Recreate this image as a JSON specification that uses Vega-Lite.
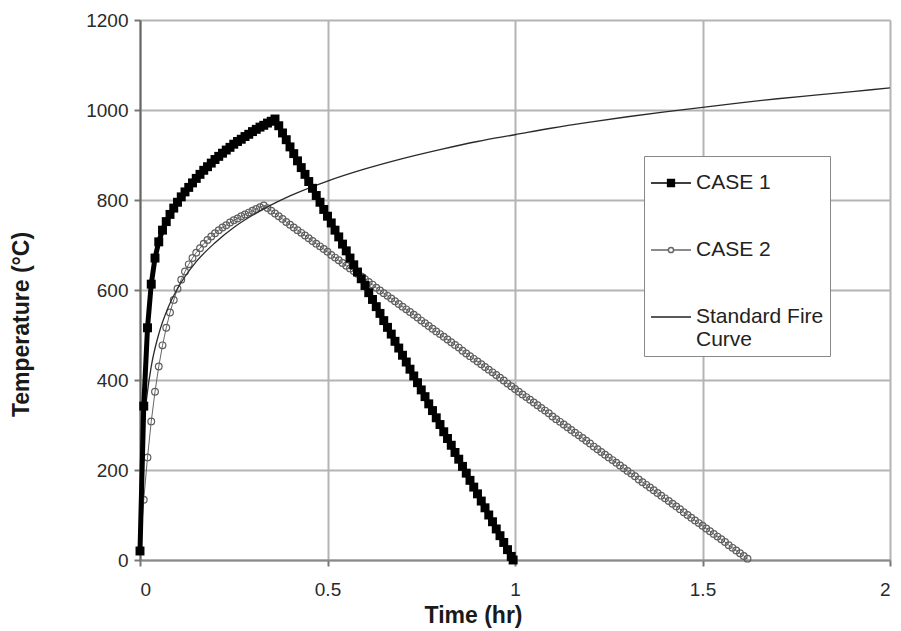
{
  "$schema": "https://vega.github.io/schema/vega-lite/v6.json",
  "width": 750,
  "height": 540,
  "autosize": {"type": "none"},
  "padding": {"left": 140, "top": 20, "right": 11, "bottom": 71},
  "background": "#ffffff",
  "config": {
    "view": {"stroke": null},
    "font": "Liberation Sans",
    "axis": {
      "labelFont": "Liberation Sans",
      "labelFontSize": 19,
      "labelColor": "#2a2a2a",
      "titleFont": "Liberation Sans",
      "titleFontSize": 23,
      "titleFontWeight": "bold",
      "titleColor": "#1a1a1a",
      "gridColor": "#b4b4b4",
      "gridWidth": 2,
      "gridOpacity": 1,
      "tickColor": "#777777",
      "tickWidth": 2,
      "tickSize": 6
    }
  },
  "datasets": {
    "case1": [
      {"time": 0, "temp": 20}, {"time": 0.01, "temp": 342}, {"time": 0.02, "temp": 516}, {"time": 0.03, "temp": 613},
      {"time": 0.04, "temp": 671}, {"time": 0.05, "temp": 707}, {"time": 0.06, "temp": 733}, {"time": 0.07, "temp": 752},
      {"time": 0.08, "temp": 768}, {"time": 0.09, "temp": 782}, {"time": 0.10, "temp": 795}, {"time": 0.11, "temp": 807},
      {"time": 0.12, "temp": 818}, {"time": 0.13, "temp": 828}, {"time": 0.14, "temp": 838}, {"time": 0.15, "temp": 848},
      {"time": 0.16, "temp": 857}, {"time": 0.17, "temp": 866}, {"time": 0.18, "temp": 874}, {"time": 0.19, "temp": 882},
      {"time": 0.20, "temp": 890}, {"time": 0.21, "temp": 897}, {"time": 0.22, "temp": 904}, {"time": 0.23, "temp": 911},
      {"time": 0.24, "temp": 917}, {"time": 0.25, "temp": 924}, {"time": 0.26, "temp": 930}, {"time": 0.27, "temp": 935},
      {"time": 0.28, "temp": 941}, {"time": 0.29, "temp": 946}, {"time": 0.30, "temp": 952}, {"time": 0.31, "temp": 957},
      {"time": 0.32, "temp": 962}, {"time": 0.33, "temp": 966}, {"time": 0.34, "temp": 971}, {"time": 0.35, "temp": 975},
      {"time": 0.36, "temp": 980}, {"time": 0.37, "temp": 965}, {"time": 0.38, "temp": 949}, {"time": 0.39, "temp": 934},
      {"time": 0.40, "temp": 918}, {"time": 0.41, "temp": 903}, {"time": 0.42, "temp": 887}, {"time": 0.43, "temp": 872},
      {"time": 0.44, "temp": 857}, {"time": 0.45, "temp": 841}, {"time": 0.46, "temp": 826}, {"time": 0.47, "temp": 810},
      {"time": 0.48, "temp": 795}, {"time": 0.49, "temp": 779}, {"time": 0.50, "temp": 764}, {"time": 0.51, "temp": 749},
      {"time": 0.52, "temp": 733}, {"time": 0.53, "temp": 718}, {"time": 0.54, "temp": 702}, {"time": 0.55, "temp": 687},
      {"time": 0.56, "temp": 671}, {"time": 0.57, "temp": 656}, {"time": 0.58, "temp": 640}, {"time": 0.59, "temp": 625},
      {"time": 0.60, "temp": 610}, {"time": 0.61, "temp": 594}, {"time": 0.62, "temp": 579}, {"time": 0.63, "temp": 563},
      {"time": 0.64, "temp": 548}, {"time": 0.65, "temp": 532}, {"time": 0.66, "temp": 517}, {"time": 0.67, "temp": 502},
      {"time": 0.68, "temp": 486}, {"time": 0.69, "temp": 471}, {"time": 0.70, "temp": 455}, {"time": 0.71, "temp": 440},
      {"time": 0.72, "temp": 424}, {"time": 0.73, "temp": 409}, {"time": 0.74, "temp": 394}, {"time": 0.75, "temp": 378},
      {"time": 0.76, "temp": 363}, {"time": 0.77, "temp": 347}, {"time": 0.78, "temp": 332}, {"time": 0.79, "temp": 316},
      {"time": 0.80, "temp": 301}, {"time": 0.81, "temp": 285}, {"time": 0.82, "temp": 270}, {"time": 0.83, "temp": 255},
      {"time": 0.84, "temp": 239}, {"time": 0.85, "temp": 224}, {"time": 0.86, "temp": 208}, {"time": 0.87, "temp": 193},
      {"time": 0.88, "temp": 177}, {"time": 0.89, "temp": 162}, {"time": 0.90, "temp": 147}, {"time": 0.91, "temp": 131},
      {"time": 0.92, "temp": 116}, {"time": 0.93, "temp": 100}, {"time": 0.94, "temp": 85}, {"time": 0.95, "temp": 69},
      {"time": 0.96, "temp": 54}, {"time": 0.97, "temp": 39}, {"time": 0.98, "temp": 23}, {"time": 0.99, "temp": 8},
      {"time": 0.995, "temp": 0}
    ],
    "case2": [
      {"time": 0, "temp": 20}, {"time": 0.01, "temp": 134}, {"time": 0.02, "temp": 228}, {"time": 0.03, "temp": 308},
      {"time": 0.04, "temp": 374}, {"time": 0.05, "temp": 430}, {"time": 0.06, "temp": 477}, {"time": 0.07, "temp": 516},
      {"time": 0.08, "temp": 550}, {"time": 0.09, "temp": 578}, {"time": 0.10, "temp": 603}, {"time": 0.11, "temp": 623},
      {"time": 0.12, "temp": 641}, {"time": 0.13, "temp": 657}, {"time": 0.14, "temp": 671}, {"time": 0.15, "temp": 683},
      {"time": 0.16, "temp": 693}, {"time": 0.17, "temp": 703}, {"time": 0.18, "temp": 711}, {"time": 0.19, "temp": 719},
      {"time": 0.20, "temp": 726}, {"time": 0.21, "temp": 733}, {"time": 0.22, "temp": 739}, {"time": 0.23, "temp": 744},
      {"time": 0.24, "temp": 750}, {"time": 0.25, "temp": 755}, {"time": 0.26, "temp": 759}, {"time": 0.27, "temp": 764},
      {"time": 0.28, "temp": 768}, {"time": 0.29, "temp": 772}, {"time": 0.30, "temp": 776}, {"time": 0.31, "temp": 780},
      {"time": 0.32, "temp": 784}, {"time": 0.33, "temp": 788}, {"time": 0.34, "temp": 782}, {"time": 0.35, "temp": 776},
      {"time": 0.36, "temp": 770}, {"time": 0.37, "temp": 764}, {"time": 0.38, "temp": 758}, {"time": 0.39, "temp": 751},
      {"time": 0.40, "temp": 745}, {"time": 0.41, "temp": 739}, {"time": 0.42, "temp": 733}, {"time": 0.43, "temp": 727},
      {"time": 0.44, "temp": 721}, {"time": 0.45, "temp": 715}, {"time": 0.46, "temp": 709}, {"time": 0.47, "temp": 703},
      {"time": 0.48, "temp": 697}, {"time": 0.49, "temp": 691}, {"time": 0.50, "temp": 685}, {"time": 0.51, "temp": 678},
      {"time": 0.52, "temp": 672}, {"time": 0.53, "temp": 666}, {"time": 0.54, "temp": 660}, {"time": 0.55, "temp": 654},
      {"time": 0.56, "temp": 648}, {"time": 0.57, "temp": 642}, {"time": 0.58, "temp": 636}, {"time": 0.59, "temp": 630},
      {"time": 0.60, "temp": 624}, {"time": 0.61, "temp": 618}, {"time": 0.62, "temp": 612}, {"time": 0.63, "temp": 605},
      {"time": 0.64, "temp": 599}, {"time": 0.65, "temp": 593}, {"time": 0.66, "temp": 587}, {"time": 0.67, "temp": 581},
      {"time": 0.68, "temp": 575}, {"time": 0.69, "temp": 569}, {"time": 0.70, "temp": 563}, {"time": 0.71, "temp": 557},
      {"time": 0.72, "temp": 551}, {"time": 0.73, "temp": 545}, {"time": 0.74, "temp": 539}, {"time": 0.75, "temp": 532},
      {"time": 0.76, "temp": 526}, {"time": 0.77, "temp": 520}, {"time": 0.78, "temp": 514}, {"time": 0.79, "temp": 508},
      {"time": 0.80, "temp": 502}, {"time": 0.81, "temp": 496}, {"time": 0.82, "temp": 490}, {"time": 0.83, "temp": 484},
      {"time": 0.84, "temp": 478}, {"time": 0.85, "temp": 472}, {"time": 0.86, "temp": 465}, {"time": 0.87, "temp": 459},
      {"time": 0.88, "temp": 453}, {"time": 0.89, "temp": 447}, {"time": 0.90, "temp": 441}, {"time": 0.91, "temp": 435},
      {"time": 0.92, "temp": 429}, {"time": 0.93, "temp": 423}, {"time": 0.94, "temp": 417}, {"time": 0.95, "temp": 411},
      {"time": 0.96, "temp": 405}, {"time": 0.97, "temp": 399}, {"time": 0.98, "temp": 392}, {"time": 0.99, "temp": 386},
      {"time": 1.00, "temp": 380}, {"time": 1.01, "temp": 374}, {"time": 1.02, "temp": 368}, {"time": 1.03, "temp": 362},
      {"time": 1.04, "temp": 356}, {"time": 1.05, "temp": 350}, {"time": 1.06, "temp": 344}, {"time": 1.07, "temp": 338},
      {"time": 1.08, "temp": 332}, {"time": 1.09, "temp": 326}, {"time": 1.10, "temp": 319}, {"time": 1.11, "temp": 313},
      {"time": 1.12, "temp": 307}, {"time": 1.13, "temp": 301}, {"time": 1.14, "temp": 295}, {"time": 1.15, "temp": 289},
      {"time": 1.16, "temp": 283}, {"time": 1.17, "temp": 277}, {"time": 1.18, "temp": 271}, {"time": 1.19, "temp": 265},
      {"time": 1.20, "temp": 259}, {"time": 1.21, "temp": 252}, {"time": 1.22, "temp": 246}, {"time": 1.23, "temp": 240},
      {"time": 1.24, "temp": 234}, {"time": 1.25, "temp": 228}, {"time": 1.26, "temp": 222}, {"time": 1.27, "temp": 216},
      {"time": 1.28, "temp": 210}, {"time": 1.29, "temp": 204}, {"time": 1.30, "temp": 198}, {"time": 1.31, "temp": 192},
      {"time": 1.32, "temp": 186}, {"time": 1.33, "temp": 179}, {"time": 1.34, "temp": 173}, {"time": 1.35, "temp": 167},
      {"time": 1.36, "temp": 161}, {"time": 1.37, "temp": 155}, {"time": 1.38, "temp": 149}, {"time": 1.39, "temp": 143},
      {"time": 1.40, "temp": 137}, {"time": 1.41, "temp": 131}, {"time": 1.42, "temp": 125}, {"time": 1.43, "temp": 119},
      {"time": 1.44, "temp": 113}, {"time": 1.45, "temp": 106}, {"time": 1.46, "temp": 100}, {"time": 1.47, "temp": 94},
      {"time": 1.48, "temp": 88}, {"time": 1.49, "temp": 82}, {"time": 1.50, "temp": 76}, {"time": 1.51, "temp": 70},
      {"time": 1.52, "temp": 64}, {"time": 1.53, "temp": 58}, {"time": 1.54, "temp": 52}, {"time": 1.55, "temp": 46},
      {"time": 1.56, "temp": 40}, {"time": 1.57, "temp": 33}, {"time": 1.58, "temp": 27}, {"time": 1.59, "temp": 21},
      {"time": 1.60, "temp": 15}, {"time": 1.61, "temp": 9}, {"time": 1.62, "temp": 3}
    ],
    "iso": [
      {"time": 0, "temp": 20}, {"time": 0.01, "temp": 283}, {"time": 0.02, "temp": 374}, {"time": 0.03, "temp": 430},
      {"time": 0.05, "temp": 502}, {"time": 0.075, "temp": 561}, {"time": 0.1, "temp": 603}, {"time": 0.15, "temp": 663},
      {"time": 0.2, "temp": 705}, {"time": 0.25, "temp": 739}, {"time": 0.3, "temp": 766}, {"time": 0.35, "temp": 789},
      {"time": 0.4, "temp": 809}, {"time": 0.5, "temp": 842}, {"time": 0.6, "temp": 869}, {"time": 0.7, "temp": 892},
      {"time": 0.8, "temp": 912}, {"time": 0.9, "temp": 930}, {"time": 1.0, "temp": 945}, {"time": 1.1, "temp": 960},
      {"time": 1.2, "temp": 973}, {"time": 1.3, "temp": 985}, {"time": 1.4, "temp": 996}, {"time": 1.5, "temp": 1006},
      {"time": 1.6, "temp": 1016}, {"time": 1.7, "temp": 1025}, {"time": 1.8, "temp": 1033}, {"time": 1.9, "temp": 1041},
      {"time": 2.0, "temp": 1049}
    ],
    "legendrows": [
      {"series": "CASE 1"}, {"series": "CASE 2"}, {"series": "Standard Fire Curve"}
    ]
  },
  "encoding": {
    "x": {
      "field": "time", "type": "quantitative",
      "scale": {"domain": [0, 2], "nice": false, "zero": false},
      "axis": {
        "title": "Time (hr)", "values": [0, 0.5, 1, 1.5, 2], "format": "~g",
        "domainColor": "#8a8a8a", "domainWidth": 2, "labelPadding": 14,
        "titleX": 333, "titleY": 55, "titleAlign": "center", "titleBaseline": "middle"
      }
    },
    "y": {
      "field": "temp", "type": "quantitative",
      "scale": {"domain": [0, 1200], "nice": false},
      "axis": {
        "title": "Temperature (°C)", "values": [0, 200, 400, 600, 800, 1000, 1200], "format": "d",
        "domainColor": "#666666", "domainWidth": 2, "labelPadding": 6,
        "titleX": -119, "titleY": 304, "titleAlign": "center", "titleBaseline": "middle", "titleAngle": 270
      }
    }
  },
  "layer": [
    {
      "data": {"name": "case2"},
      "mark": {"type": "line", "color": "#666666", "strokeWidth": 1}
    },
    {
      "data": {"name": "case2"},
      "mark": {"type": "point", "shape": "circle", "filled": false, "stroke": "#5e5e5e", "strokeWidth": 1.2, "size": 45, "opacity": 1}
    },
    {
      "data": {"name": "iso"},
      "mark": {"type": "line", "color": "#2a2a2a", "strokeWidth": 1.3, "interpolate": "monotone"}
    },
    {
      "data": {"name": "case1"},
      "mark": {"type": "line", "color": "#000000", "strokeWidth": 5}
    },
    {
      "data": {"name": "case1"},
      "mark": {"type": "point", "shape": "square", "filled": true, "color": "#000000", "size": 80, "opacity": 1}
    },
    {
      "data": {"name": "legendrows"},
      "transform": [{"filter": "datum.series == 'none'"}],
      "mark": {"type": "point", "strokeWidth": 1.5, "opacity": 1, "filled": true},
      "encoding": {
        "x": {"value": 0},
        "y": {"value": 0},
        "shape": {
          "field": "series", "type": "nominal",
          "scale": {
            "domain": ["CASE 1", "CASE 2", "Standard Fire Curve"],
            "range": [
              "M-1,0H1M-0.17,-0.17H0.17V0.17H-0.17Z",
              "M-1,0H-0.13M0.13,0H1M0.13,0A0.13,0.13 0 1,0 -0.13,0A0.13,0.13 0 1,0 0.13,0Z",
              "M-1,0H1"
            ]
          },
          "legend": {
            "title": null, "orient": "none", "legendX": 504, "legendY": 136,
            "strokeColor": "#888888", "fillColor": "#ffffff", "padding": 6,
            "labelFont": "Liberation Sans", "labelFontSize": 21, "labelColor": "#222222",
            "symbolSize": 1600, "symbolStrokeWidth": 1.5, "rowPadding": 36, "labelOffset": 4,
            "labelExpr": "datum.label == 'Standard Fire Curve' ? ['Standard Fire', 'Curve'] : datum.label"
          }
        },
        "fill": {
          "field": "series", "type": "nominal",
          "scale": {"domain": ["CASE 1", "CASE 2", "Standard Fire Curve"], "range": ["#000000", "#ffffff", "#222222"]},
          "legend": {
            "title": null, "orient": "none", "legendX": 504, "legendY": 136,
            "strokeColor": "#888888", "fillColor": "#ffffff", "padding": 6,
            "labelFont": "Liberation Sans", "labelFontSize": 21, "labelColor": "#222222",
            "symbolSize": 1600, "symbolStrokeWidth": 1.5, "rowPadding": 36, "labelOffset": 4,
            "labelExpr": "datum.label == 'Standard Fire Curve' ? ['Standard Fire', 'Curve'] : datum.label"
          }
        },
        "stroke": {
          "field": "series", "type": "nominal",
          "scale": {"domain": ["CASE 1", "CASE 2", "Standard Fire Curve"], "range": ["#000000", "#666666", "#222222"]},
          "legend": {
            "title": null, "orient": "none", "legendX": 504, "legendY": 136,
            "strokeColor": "#888888", "fillColor": "#ffffff", "padding": 6,
            "labelFont": "Liberation Sans", "labelFontSize": 21, "labelColor": "#222222",
            "symbolSize": 1600, "symbolStrokeWidth": 1.5, "rowPadding": 36, "labelOffset": 4,
            "labelExpr": "datum.label == 'Standard Fire Curve' ? ['Standard Fire', 'Curve'] : datum.label"
          }
        }
      }
    }
  ]
}
